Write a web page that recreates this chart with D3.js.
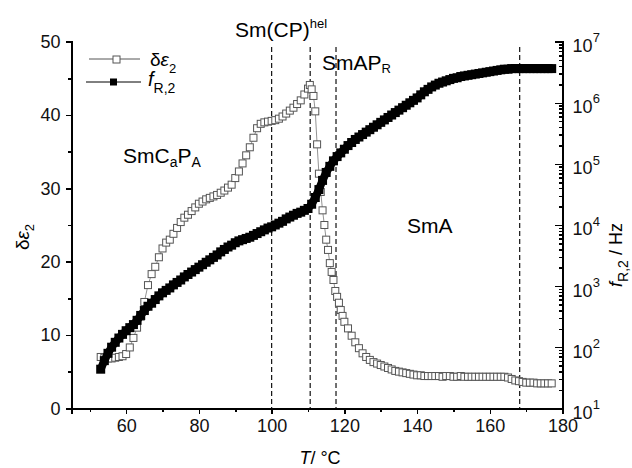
<!DOCTYPE html>
<html lang="en">
<head>
<meta charset="utf-8">
<title>dielectric mode 2 vs temperature</title>
<script src="https://cdn.jsdelivr.net/npm/d3@7"></script>
<style>
  body { margin: 0; background: #fff; }
  svg { font-family: Arial, "Liberation Sans", sans-serif; }
  .axis path, .axis line { stroke: #000; stroke-width: 1.5; shape-rendering: crispEdges; }
  .axis text { font-size: 18px; fill: #111; }
</style>
</head>
<body>
<script>
// delta eps2 (open squares)
var tEps = [53,54,55,56,57,58,59,60,61,62,63,64,65,66,67,68,69,70,71,72,73,74,75,76,77,78,79,80,
  81,82,83,84,85,86,87,88,89,90,91,92,93,94,95,96,97,98,99,100,101,102,103,104,105,106,107,108,109,110,
  110.5,111,111.5,112,112.5,113,113.5,114,114.5,115,115.5,116,116.5,117,117.5,118,118.5,119,119.5,120,
  121,122,123,124,125,126,127,128,129,130,131,132,133,134,135,136,137,138,139,140,
  141,142,143,144,145,146,147,148,149,150,151,152,153,154,155,156,157,158,159,160,
  161,162,163,164,165,166,167,168,169,170,171,172,173,174,175,176,177];
var dEps = [7.0,6.9,6.8,6.8,6.9,7.0,7.1,7.4,8.3,9.6,11.0,12.5,14.5,16.8,18.3,19.3,20.6,21.8,22.6,23.0,23.8,24.6,25.4,26.0,26.4,26.9,27.4,27.9,
  28.2,28.5,28.7,28.9,29.1,29.4,29.7,30.1,30.5,31.4,32.3,33.4,34.5,35.6,36.9,38.2,38.8,39.0,39.1,39.2,39.3,39.5,39.8,40.2,40.6,41.0,41.5,42.0,42.8,43.6,
  44.1,43.5,42.6,40.5,36.0,32.0,29.5,27.0,25.0,23.0,21.6,19.8,18.6,17.5,16.0,15.2,14.4,13.4,12.6,11.8,
  10.9,9.9,9.0,8.2,7.5,7.0,6.6,6.3,6.1,5.9,5.7,5.5,5.3,5.1,5.0,4.9,4.8,4.7,4.6,4.5,
  4.5,4.4,4.4,4.4,4.4,4.4,4.3,4.4,4.4,4.3,4.3,4.4,4.3,4.3,4.3,4.3,4.3,4.3,4.3,4.3,
  4.3,4.3,4.3,4.3,4.2,4.0,3.8,3.7,3.6,3.5,3.5,3.5,3.4,3.4,3.4,3.4,3.4];

// f_R,2 (filled squares), log10 of frequency in Hz
var tFr = d3.range(53, 178);
var frExp = [1.64,1.78,1.90,2.00,2.08,2.15,2.21,2.27,2.32,2.37,2.44,2.52,2.60,2.67,2.72,2.78,2.84,2.89,2.93,2.97,
  3.02,3.06,3.10,3.15,3.19,3.23,3.27,3.31,3.35,3.39,3.43,3.47,3.51,3.56,3.60,3.64,3.67,3.71,3.74,3.76,
  3.78,3.80,3.83,3.86,3.89,3.92,3.95,3.97,4.00,4.03,4.06,4.10,4.13,4.16,4.19,4.21,4.24,4.27,4.34,4.45,
  4.58,4.73,4.86,4.96,5.05,5.12,5.18,5.24,5.30,5.35,5.40,5.44,5.48,5.52,5.56,5.60,5.64,5.68,5.72,5.76,
  5.80,5.84,5.88,5.92,5.96,6.00,6.04,6.08,6.13,6.18,6.22,6.26,6.29,6.32,6.34,6.36,6.38,6.40,6.41,6.43,
  6.44,6.45,6.46,6.47,6.48,6.49,6.50,6.51,6.52,6.53,6.54,6.55,6.55,6.56,6.56,6.56,6.56,6.56,6.56,6.56,
  6.56,6.56,6.56,6.56,6.56];

// phase transition temperatures (dashed lines)
var transitions = [100, 110.6, 117.7, 168.2];

var xTicks = [60, 80, 100, 120, 140, 160, 180];
var xMinor = [50, 70, 90, 110, 130, 150, 170];
var yTicks = [0, 10, 20, 30, 40, 50];
var yMinor = [5, 15, 25, 35, 45];
var rTicks = [1e1, 1e2, 1e3, 1e4, 1e5, 1e6, 1e7];

var width = 632, height = 468;

var svg = d3.select("body").append("svg")
    .attr("width", width)
    .attr("height", height);

var x = d3.scaleLinear().domain([45, 180]).range([71.6, 562.6]);
var y = d3.scaleLinear().domain([0, 50]).range([408.3, 41.7]);
var yR = d3.scaleLog().domain([10, 1e7]).range([408.3, 41.7]);

// dashed transition lines
svg.selectAll("line.trans")
    .data(transitions)
  .enter().append("line")
    .attr("class", "trans")
    .attr("x1", function(d) { return x(d); })
    .attr("x2", function(d) { return x(d); })
    .attr("y1", 47)
    .attr("y2", y(0))
    .attr("stroke", "#111")
    .attr("stroke-width", 1.2)
    .attr("stroke-dasharray", "5,3");

// axes
svg.append("g").attr("class", "axis")
    .attr("transform", "translate(0," + y(0) + ")")
    .call(d3.axisBottom(x).tickValues(xTicks).tickSizeOuter(0).tickSize(6).tickPadding(5));
svg.append("g").attr("class", "axis")
    .attr("transform", "translate(0," + y(0) + ")")
    .call(d3.axisBottom(x).tickValues(xMinor).tickSize(4).tickFormat(""))
    .select(".domain").remove();

svg.append("g").attr("class", "axis")
    .attr("transform", "translate(" + x(45) + ",0)")
    .call(d3.axisLeft(y).tickValues(yTicks).tickSizeOuter(0).tickSize(6).tickPadding(5));
svg.append("g").attr("class", "axis")
    .attr("transform", "translate(" + x(45) + ",0)")
    .call(d3.axisLeft(y).tickValues(yMinor).tickSize(4).tickFormat(""))
    .select(".domain").remove();

var rMinor = [];
[1, 2, 3, 4, 5, 6].forEach(function(k) {
    for (var m = 2; m <= 9; m++) rMinor.push(m * Math.pow(10, k));
});

var gr = svg.append("g").attr("class", "axis")
    .attr("transform", "translate(" + x(180) + ",0)")
    .call(d3.axisRight(yR).tickValues(rTicks).tickSizeOuter(0).tickSize(-8).tickPadding(10)
        .tickFormat(function(d) { return "10"; }));
svg.append("g").attr("class", "axis")
    .attr("transform", "translate(" + x(180) + ",0)")
    .call(d3.axisRight(yR).tickValues(rMinor).tickSize(-4).tickFormat(""))
    .select(".domain").remove();

// superscript exponents on log axis
gr.selectAll(".tick text")
    .attr("dy", "0.55em")
    .append("tspan")
    .attr("dy", "-0.75em")
    .attr("font-size", "13px")
    .text(function(d) { return Math.round(Math.log10(d)); });

// delta eps2 series
var epsData = tEps.map(function(t, i) { return [t, dEps[i]]; });
svg.append("path")
    .datum(epsData)
    .attr("fill", "none")
    .attr("stroke", "#777")
    .attr("stroke-width", 0.8)
    .attr("d", d3.line().x(function(d) { return x(d[0]); }).y(function(d) { return y(d[1]); }));
svg.selectAll("rect.eps")
    .data(epsData)
  .enter().append("rect")
    .attr("class", "eps")
    .attr("x", function(d) { return x(d[0]) - 3.5; })
    .attr("y", function(d) { return y(d[1]) - 3.5; })
    .attr("width", 7)
    .attr("height", 7)
    .attr("fill", "#fff")
    .attr("stroke", "#555")
    .attr("stroke-width", 1);

// f_R,2 series - dense markers form a thick band
var frData = tFr.map(function(t, i) { return [t, Math.pow(10, frExp[i])]; });
svg.append("path")
    .datum(frData)
    .attr("fill", "none")
    .attr("stroke", "#000")
    .attr("stroke-width", 8)
    .attr("stroke-linejoin", "round")
    .attr("d", d3.line().x(function(d) { return x(d[0]); }).y(function(d) { return yR(d[1]); }));
svg.selectAll("rect.fr")
    .data(frData)
  .enter().append("rect")
    .attr("class", "fr")
    .attr("x", function(d) { return x(d[0]) - 4.5; })
    .attr("y", function(d) { return yR(d[1]) - 4.5; })
    .attr("width", 9)
    .attr("height", 9)
    .attr("fill", "#000");

// axis titles
var xl = svg.append("text")
    .attr("x", 320).attr("y", 464)
    .attr("text-anchor", "middle")
    .attr("font-size", "18px");
xl.append("tspan").attr("font-style", "italic").text("T");
xl.append("tspan").text("/ °C");

var yl = svg.append("text")
    .attr("transform", "translate(29,237)rotate(-90)")
    .attr("text-anchor", "middle")
    .attr("font-size", "19px");
yl.append("tspan").text("δ");
yl.append("tspan").attr("font-style", "italic").text("ε");
yl.append("tspan").attr("dy", 5).attr("font-size", "13px").text("2");

var rl = svg.append("text")
    .attr("transform", "translate(622,255)rotate(-90)")
    .attr("text-anchor", "middle")
    .attr("font-size", "18px");
rl.append("tspan").attr("font-style", "italic").text("f");
rl.append("tspan").attr("dy", 6).attr("font-size", "14px").text("R,2");
rl.append("tspan").attr("dy", -6).text(" / Hz");

// legend
var leg = svg.append("g");
leg.append("line").attr("x1", 89).attr("x2", 140).attr("y1", 59).attr("y2", 59)
    .attr("stroke", "#555").attr("stroke-width", 1);
leg.append("rect").attr("x", 113).attr("y", 56).attr("width", 7).attr("height", 7)
    .attr("fill", "#fff").attr("stroke", "#555");
var l1 = leg.append("text").attr("x", 150).attr("y", 66).attr("font-size", "19px");
l1.append("tspan").text("δ");
l1.append("tspan").attr("font-style", "italic").text("ε");
l1.append("tspan").attr("dy", 7).attr("font-size", "13px").text("2");

leg.append("line").attr("x1", 86).attr("x2", 141).attr("y1", 82).attr("y2", 82)
    .attr("stroke", "#000").attr("stroke-width", 1);
leg.append("rect").attr("x", 110).attr("y", 78.5).attr("width", 7).attr("height", 7)
    .attr("fill", "#000");
var l2 = leg.append("text").attr("x", 148).attr("y", 86).attr("font-size", "20px");
l2.append("tspan").attr("font-style", "italic").text("f");
l2.append("tspan").attr("dy", 7).attr("font-size", "14px").text("R,2");

// phase labels
var a1 = svg.append("text").attr("x", 235).attr("y", 37).attr("font-size", "21px");
a1.append("tspan").text("Sm(CP)");
a1.append("tspan").attr("dy", -9).attr("font-size", "13px").text("hel");

var a2 = svg.append("text").attr("x", 322).attr("y", 70).attr("font-size", "21px");
a2.append("tspan").text("SmAP");
a2.append("tspan").attr("dy", 3).attr("font-size", "13px").text("R");

var a3 = svg.append("text").attr("x", 123).attr("y", 163).attr("font-size", "21px");
a3.append("tspan").text("SmC");
a3.append("tspan").attr("dy", 4).attr("font-size", "14px").text("a");
a3.append("tspan").attr("dy", -4).text("P");
a3.append("tspan").attr("dy", 4).attr("font-size", "14px").text("A");

svg.append("text").attr("x", 407).attr("y", 233).attr("font-size", "21px").text("SmA");
</script>
</body>
</html>
